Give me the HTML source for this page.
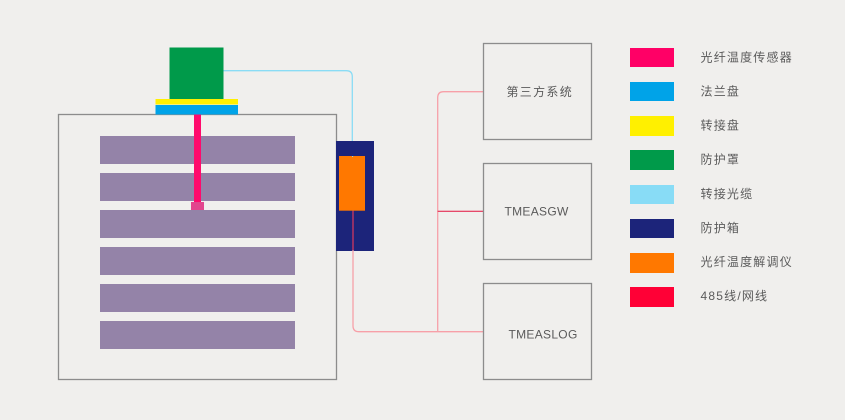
<!DOCTYPE html>
<html>
<head>
<meta charset="utf-8">
<style>
  html,body{margin:0;padding:0;background:#f0efed;}
  body{width:845px;height:420px;overflow:hidden;}
  svg{display:block;}
  text{font-family:"Liberation Sans","Noto Sans CJK SC",sans-serif;fill:#5a5a5a;}
</style>
</head>
<body>
<svg width="845" height="420" viewBox="0 0 845 420" xmlns="http://www.w3.org/2000/svg">
  <rect x="0" y="0" width="845" height="420" fill="#f0efed"/>

  <!-- main box -->
  <rect x="58.5" y="114.5" width="278" height="265" fill="none" stroke="#8c8c8c" stroke-width="1.3"/>

  <!-- bars -->
  <g fill="#9483a8">
    <rect x="100" y="136" width="195" height="28"/>
    <rect x="100" y="173" width="195" height="28"/>
    <rect x="100" y="210" width="195" height="28"/>
    <rect x="100" y="247" width="195" height="28"/>
    <rect x="100" y="284" width="195" height="28"/>
    <rect x="100" y="321" width="195" height="28"/>
  </g>

  <!-- sensor rod -->
  <rect x="194" y="114" width="7" height="89" fill="#ff0a6c"/>
  <rect x="191" y="202" width="13" height="8" fill="#e2468e"/>

  <!-- flange, adapter, cover -->
  <rect x="155.5" y="105" width="82.5" height="9.5" fill="#00a3e8"/>
  <rect x="155.5" y="99" width="82.5" height="5.5" fill="#fff000"/>
  <rect x="169.5" y="47.5" width="54" height="51.5" fill="#009a4a"/>

  <!-- cyan cable -->
  <path d="M223.5 70.7 H346.3 Q352.3 70.7 352.3 76.7 V156" fill="none" stroke="#8adcf5" stroke-width="1.3"/>

  <!-- protective box -->
  <rect x="336" y="141" width="38" height="110" fill="#1c247a"/>
  <rect x="339" y="156" width="26" height="54.7" fill="#ff7800"/>
  <line x1="352.6" y1="156" x2="352.6" y2="157" stroke="#8adcf5" stroke-width="1"/>

  <!-- red lines -->
  <path d="M353 210.7 V325.7 Q353 331.7 359 331.7 H483.5" fill="none" stroke="#f7a0a8" stroke-width="1.3"/>
  <line x1="353" y1="210.7" x2="353" y2="250" stroke="#c2184a" stroke-width="1"/>
  <path d="M437.7 331.7 V97.7 Q437.7 91.7 443.7 91.7 H483.5" fill="none" stroke="#f7a0a8" stroke-width="1.3"/>
  <line x1="437.7" y1="211.3" x2="483.5" y2="211.3" stroke="#e3123e" stroke-width="1"/>

  <!-- right boxes -->
  <g fill="none" stroke="#8c8c8c" stroke-width="1.3">
    <rect x="483.5" y="43.5" width="108" height="96"/>
    <rect x="483.5" y="163.5" width="108" height="96"/>
    <rect x="483.5" y="283.5" width="108" height="96"/>
  </g>
  <text x="506.5" y="96" font-size="12" letter-spacing="1.3">第三方系统</text>
  <text x="504.5" y="215.6" font-size="12" letter-spacing="0.3">TMEASGW</text>
  <text x="508.5" y="338.3" font-size="12" letter-spacing="0.3">TMEASLOG</text>

  <!-- legend -->
  <rect x="630" y="48" width="44" height="19" fill="#ff0066"/>
  <rect x="630" y="82" width="44" height="19" fill="#00a3e8"/>
  <rect x="630" y="116" width="44" height="20" fill="#fff000"/>
  <rect x="630" y="150" width="44" height="20" fill="#009a4a"/>
  <rect x="630" y="185" width="44" height="19" fill="#88dcf6"/>
  <rect x="630" y="219" width="44" height="19" fill="#1c247a"/>
  <rect x="630" y="253" width="44" height="20" fill="#ff7800"/>
  <rect x="630" y="287" width="44" height="20" fill="#ff0036"/>

  <g font-size="12" letter-spacing="1.2">
    <text x="700.5" y="61.5">光纤温度传感器</text>
    <text x="700.5" y="95.5">法兰盘</text>
    <text x="700.5" y="129.5">转接盘</text>
    <text x="700.5" y="163.5">防护罩</text>
    <text x="700.5" y="198">转接光缆</text>
    <text x="700.5" y="232">防护箱</text>
    <text x="700.5" y="266">光纤温度解调仪</text>
    <text x="700.5" y="300">485线/网线</text>
  </g>
</svg>
</body>
</html>
